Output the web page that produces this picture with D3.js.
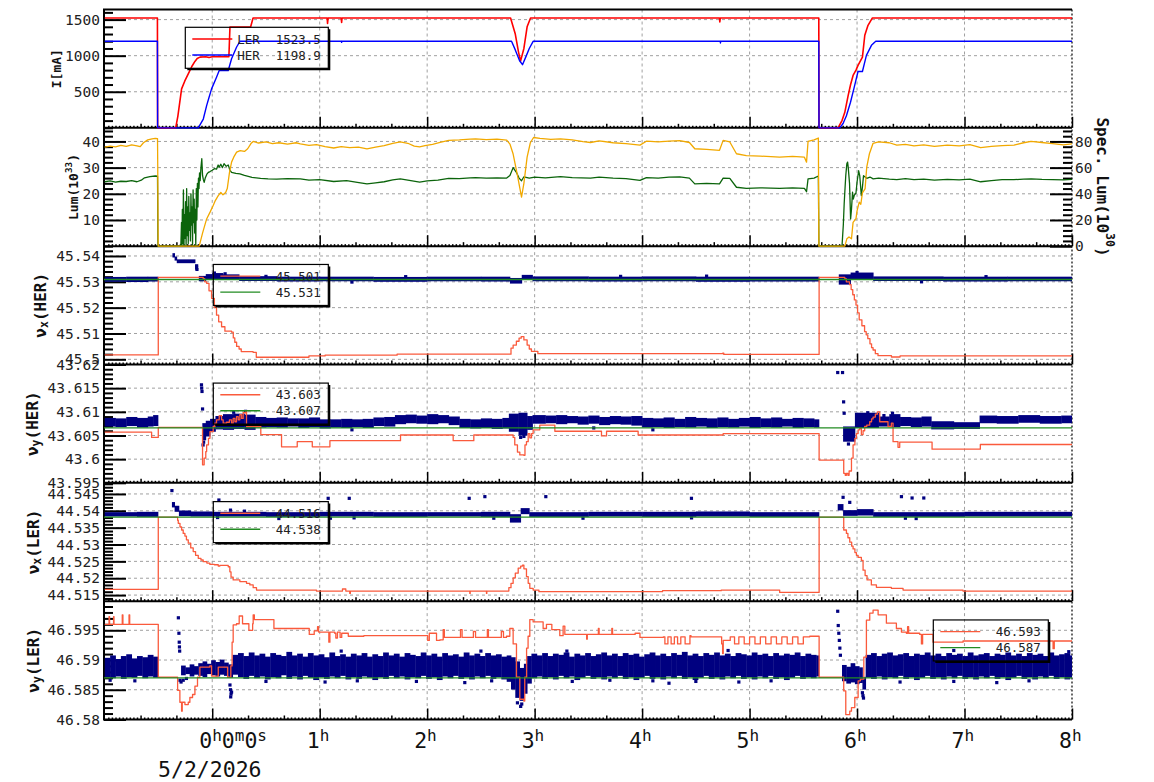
<!DOCTYPE html>
<html><head><meta charset="utf-8">
<script src="https://cdn.jsdelivr.net/npm/d3@7"></script>
<style>body{margin:0;background:#fff}svg{display:block}</style>
</head><body><svg id="c" width="1154" height="782"></svg>
<script>
// ---------------- DATA (time in hours from 0h0m0s, 5/2/2026) ----------------
const hourTicks = [0,1,2,3,4,5,6,7,8];
const hourLabels = [[["0","h"],["0","m"],["0","s"]],[["1","h"]],[["2","h"]],[["3","h"]],[["4","h"]],[["5","h"]],[["6","h"]],[["7","h"]],[["8","h"]]];
const dateLabel = "5/2/2026";

const iTicks = [500,1000,1500];
const lumTicks = [10,20,30,40];
const specTicks = [0,20,40,60,80];
const nxHerTicks = [45.5,45.51,45.52,45.53,45.54];
const nyHerTicks = [43.595,43.6,43.605,43.61,43.615,43.62];
const nxLerTicks = [44.515,44.52,44.525,44.53,44.535,44.54,44.545];
const nyLerTicks = [46.58,46.585,46.59,46.595];

// beam currents [h, mA]
const lerCurrent = [[-1.0,1523],[-0.51,1523],[-0.508,0],[-0.34,0],[-0.32,160],[-0.285,540],[-0.255,650],[-0.223,749],[-0.19,850],[-0.161,920],[-0.14,960],[-0.114,980],[-0.06,985],[-0.03,975],[0.0,985],[0.155,985],[0.165,1398],[0.357,1398],[0.38,1523],[1.07,1523],[1.073,1446],[1.078,1523],[1.2,1523],[1.204,1460],[1.208,1523],[2.776,1523],[2.82,1300],[2.85,1050],[2.869,925],[2.9,1100],[2.93,1400],[2.962,1523],[4.72,1523],[4.723,1468],[4.728,1523],[5.644,1523],[5.646,0],[5.823,0],[5.86,100],[5.886,215],[5.917,447],[5.94,600],[5.963,726],[5.99,800],[6.009,865],[6.05,980],[6.072,1283],[6.102,1421],[6.143,1523],[8.0,1523]];
const herCurrent = [[-1.0,1199],[-0.51,1199],[-0.508,0],[-0.13,0],[-0.083,122],[-0.052,308],[-0.03,420],[-0.006,540],[0.04,702],[0.065,795],[0.149,795],[0.18,958],[0.227,1120],[0.258,1199],[1.203,1199],[1.204,1185],[1.206,1199],[2.785,1199],[2.82,1080],[2.86,930],[2.887,875],[2.92,990],[2.95,1100],[2.986,1199],[4.727,1199],[4.729,1176],[4.731,1199],[5.644,1199],[5.646,0],[5.839,0],[5.87,60],[5.901,168],[5.939,354],[5.97,540],[6.009,781],[6.05,781],[6.087,1004],[6.134,1143],[6.174,1199],[8.0,1199]];

// luminosities (left axis units, 10^33)
const specLum = [[-1.0,37.8],[-0.95,38.2],[-0.9,37.9],[-0.85,38.5],[-0.8,38.1],[-0.75,38.7],[-0.7,38.3],[-0.67,38.0],[-0.64,39.5],[-0.6,40.6],[-0.56,41.0],[-0.53,41.2],[-0.509,41.1],[-0.507,30.5],[-0.503,0],[-0.121,0],[-0.09,5],[-0.052,10.4],[-0.02,13],[0.009,15.5],[0.03,17.5],[0.056,19.3],[0.08,20.5],[0.1,19.6],[0.125,20.5],[0.14,22],[0.16,28],[0.18,32.1],[0.2,34],[0.227,35.9],[0.26,36.5],[0.3,36.2],[0.33,37.2],[0.36,39.2],[0.381,40.0],[0.43,39.4],[0.5,39.8],[0.56,39.2],[0.62,39.5],[0.7,39.0],[0.78,39.5],[0.82,39.1],[0.9,38.5],[0.97,38.8],[1.05,38.0],[1.13,37.5],[1.2,38.0],[1.28,37.6],[1.36,37.8],[1.44,37.2],[1.52,37.8],[1.6,38.4],[1.68,39.3],[1.75,39.8],[1.82,39.3],[1.88,38.2],[1.93,37.9],[1.98,38.4],[2.05,38.9],[2.12,39.6],[2.2,40.4],[2.3,40.6],[2.4,40.9],[2.45,41.0],[2.55,40.7],[2.65,40.9],[2.74,40.5],[2.77,39.0],[2.8,35.2],[2.84,27],[2.878,18.7],[2.9,24],[2.93,34],[2.96,39.5],[2.99,41.5],[3.05,41.2],[3.15,40.8],[3.24,41.0],[3.35,40.6],[3.45,39.9],[3.52,39.6],[3.6,40.2],[3.73,39.5],[3.85,39.2],[3.98,38.6],[4.04,40.1],[4.15,39.8],[4.25,40.1],[4.35,40.3],[4.44,39.6],[4.49,37.2],[4.6,37.0],[4.72,36.6],[4.754,40.4],[4.816,39.8],[4.878,35.3],[4.97,34.6],[5.1,34.4],[5.28,34.0],[5.4,34.3],[5.51,34.0],[5.53,32.1],[5.544,40.0],[5.6,40.6],[5.64,41.3],[5.645,0],[5.886,0],[5.905,2.8],[5.925,3.5],[5.948,2.8],[5.963,9.1],[5.99,10.5],[6.0,13.5],[6.02,16.8],[6.035,16.0],[6.05,20.3],[6.075,22],[6.09,30.2],[6.115,35.3],[6.149,39.3],[6.2,39.8],[6.3,39.5],[6.37,38.6],[6.45,38.9],[6.53,38.3],[6.62,38.7],[6.72,38.1],[6.84,38.6],[6.95,38.3],[7.05,38.8],[7.15,37.6],[7.25,38.1],[7.35,38.4],[7.46,38.6],[7.55,39.5],[7.62,40.0],[7.72,39.6],[7.82,39.2],[7.92,38.7],[8.0,39.1]];
const lum = [[-1.0,24.6],[-0.95,24.9],[-0.9,24.5],[-0.85,24.8],[-0.8,24.7],[-0.75,25.0],[-0.7,24.6],[-0.66,25.2],[-0.63,26.1],[-0.58,26.6],[-0.53,26.8],[-0.509,26.7],[-0.505,0],[-0.292,0],[-0.286,9],[-0.282,0],[-0.278,14],[-0.273,1],[-0.268,21.5],[-0.263,0],[-0.258,12],[-0.253,3],[-0.248,17],[-0.243,0],[-0.238,22],[-0.233,4],[-0.228,15],[-0.223,1],[-0.218,19],[-0.213,6],[-0.208,12.7],[-0.203,2],[-0.198,20],[-0.193,8],[-0.188,15],[-0.183,0],[-0.178,21.5],[-0.173,9],[-0.168,18],[-0.163,5],[-0.158,14],[-0.153,0],[-0.148,22],[-0.143,10],[-0.138,24],[-0.133,15],[-0.128,26],[-0.123,22],[-0.118,28],[-0.112,25],[-0.105,30],[-0.097,33.4],[-0.09,27],[-0.083,25.5],[-0.075,24.4],[-0.065,26],[-0.05,27.5],[-0.036,28.2],[-0.02,28.5],[0.0,29.0],[0.02,29.6],[0.04,29.4],[0.055,31],[0.065,30.2],[0.08,31.3],[0.095,30],[0.11,31.5],[0.13,30.5],[0.149,31],[0.165,29],[0.18,28.2],[0.22,27.8],[0.258,27.6],[0.3,27.0],[0.37,26.3],[0.45,25.9],[0.52,25.7],[0.6,25.6],[0.7,25.8],[0.82,25.7],[0.9,25.2],[1.0,25.4],[1.13,24.7],[1.25,25.0],[1.35,24.4],[1.44,23.8],[1.52,24.2],[1.6,24.6],[1.68,25.3],[1.75,25.7],[1.82,25.2],[1.93,24.5],[2.0,24.9],[2.1,25.2],[2.2,25.9],[2.3,25.8],[2.4,26.1],[2.45,26.2],[2.55,26.0],[2.65,26.1],[2.74,26.0],[2.77,27],[2.8,30.0],[2.83,28.2],[2.855,26],[2.878,25.0],[2.9,26.5],[2.95,26.0],[3.0,26.4],[3.1,26.1],[3.24,26.6],[3.35,26.2],[3.52,26.0],[3.6,26.4],[3.73,26.0],[3.85,25.8],[3.98,25.1],[4.04,26.2],[4.15,26.0],[4.25,26.4],[4.35,26.5],[4.44,26.0],[4.49,23.8],[4.6,24.0],[4.72,23.8],[4.754,26.0],[4.816,25.9],[4.878,22.5],[4.97,22.1],[5.1,22.3],[5.28,22.1],[5.4,22.3],[5.51,22.1],[5.53,20.8],[5.544,25.7],[5.6,26.0],[5.64,26.8],[5.645,0],[5.86,0],[5.872,8],[5.88,16],[5.886,20.6],[5.895,27],[5.905,31.5],[5.912,32.1],[5.918,30],[5.93,24],[5.94,10.4],[5.948,14],[5.958,20.6],[5.965,18],[5.975,19.5],[5.99,20.3],[6.0,24.5],[6.015,28.8],[6.025,26.9],[6.04,19.3],[6.05,22.5],[6.06,26.9],[6.09,25.9],[6.12,26.4],[6.15,25.7],[6.2,26.0],[6.3,25.6],[6.37,25.4],[6.45,25.8],[6.53,25.4],[6.62,25.6],[6.72,25.2],[6.84,25.5],[6.95,25.3],[7.05,25.6],[7.15,24.6],[7.25,25.0],[7.35,25.4],[7.46,25.4],[7.55,25.6],[7.62,25.7],[7.72,25.5],[7.82,25.4],[7.92,25.3],[8.0,25.5]];

// nu_x(HER)
const nxHerSet = [[-1.0,45.5017],[-0.502,45.5317],[-0.084,45.5312],[-0.07,45.5300],[-0.052,45.5294],[-0.03,45.5265],[-0.006,45.5236],[0.02,45.5200],[0.04,45.5171],[0.06,45.5145],[0.087,45.5126],[0.118,45.5109],[0.18,45.5105],[0.196,45.5083],[0.21,45.5066],[0.227,45.5050],[0.25,45.5040],[0.27,45.5030],[0.38,45.5027],[0.41,45.5008],[0.9,45.5013],[1.05,45.5016],[1.72,45.5020],[2.75,45.5020],[2.78,45.5043],[2.8,45.5055],[2.83,45.5070],[2.855,45.5082],[2.875,45.5088],[2.9,45.5075],[2.93,45.5055],[2.95,45.5040],[2.97,45.5031],[3.03,45.5022],[4.75,45.5024],[4.76,45.5019],[5.647,45.5317],[5.886,45.5312],[5.9,45.5300],[5.93,45.5289],[5.945,45.5270],[5.96,45.5250],[5.975,45.5230],[5.99,45.5210],[6.005,45.5180],[6.02,45.5153],[6.045,45.5130],[6.07,45.5107],[6.085,45.5095],[6.1,45.5080],[6.12,45.5060],[6.135,45.5045],[6.149,45.5036],[6.17,45.5022],[6.195,45.5014],[6.32,45.5009],[6.4,45.5013],[8.0,45.5013]];
const nxHerRef = 45.5309;
const nxHerBand = [[-1.0,45.5304,45.5315],[-0.8,45.5303,45.5316],[-0.6,45.5305,45.5316],[-0.505,null,null],[-0.37,45.5398,45.5407],[-0.35,45.5386,45.5394],[-0.33,45.5376,45.5383],[-0.16,45.5351,45.5359],[-0.135,null,null],[-0.125,45.5306,45.5319],[-0.06,45.5311,45.5326],[0.0,45.5313,45.5330],[0.1,45.5312,45.5325],[0.25,45.5307,45.5318],[0.6,45.5305,45.5316],[1.0,45.5306,45.5316],[1.5,45.5304,45.5315],[2.0,45.5306,45.5316],[2.5,45.5305,45.5316],[2.77,45.5297,45.5311],[2.88,45.5311,45.5323],[2.98,45.5306,45.5317],[3.5,45.5305,45.5316],[4.0,45.5306,45.5317],[4.5,45.5304,45.5316],[5.0,45.5305,45.5316],[5.645,null,null],[5.83,45.5293,45.5325],[5.94,45.5313,45.5332],[6.15,45.5307,45.5317],[6.8,45.5305,45.5316],[7.4,45.5306,45.5316]];
const nxHerPts = [[0.02,45.5334],[0.12,45.5331],[0.5,45.5321],[1.3,45.5299],[1.8,45.5320],[3.8,45.5321],[4.6,45.5322],[6.0,45.5336],[-0.145,45.5362],[-0.142,45.5348],[6.6,45.5300],[7.2,45.5320]];

// nu_y(HER)
const nyHerSet = [[-1.0,43.6057],[-0.564,43.6046],[-0.502,43.6067],[-0.09,43.5988],[-0.075,43.6002],[-0.06,43.6016],[-0.052,43.6030],[-0.035,43.6044],[-0.021,43.6058],[0.009,43.6069],[0.025,43.6076],[0.04,43.6083],[0.065,43.6092],[0.087,43.6083],[0.102,43.6076],[0.133,43.6078],[0.16,43.6083],[0.18,43.6076],[0.195,43.6086],[0.211,43.6079],[0.226,43.6090],[0.242,43.6083],[0.257,43.6094],[0.273,43.6086],[0.288,43.6098],[0.31,43.6100],[0.319,43.6069],[0.452,43.6052],[0.645,43.6026],[0.791,43.6037],[0.931,43.6026],[1.095,43.6039],[1.752,43.6051],[2.242,43.6039],[2.434,43.6051],[2.80,43.6046],[2.815,43.6030],[2.84,43.6015],[2.862,43.6009],[2.899,43.6008],[2.91,43.6030],[2.924,43.6037],[2.94,43.6054],[2.955,43.6045],[2.971,43.6054],[2.986,43.6062],[3.048,43.6072],[3.188,43.6059],[3.622,43.6049],[3.669,43.6059],[3.963,43.6051],[4.754,43.6054],[5.647,43.5998],[5.876,43.5970],[5.89,43.5966],[5.901,43.5970],[5.915,43.5966],[5.926,43.5975],[5.948,43.6002],[5.963,43.6030],[5.98,43.6044],[5.994,43.6054],[6.01,43.6062],[6.025,43.6065],[6.04,43.6052],[6.056,43.6060],[6.071,43.6069],[6.09,43.6072],[6.118,43.6079],[6.135,43.6085],[6.149,43.6089],[6.17,43.6095],[6.189,43.6100],[6.211,43.6079],[6.288,43.6069],[6.319,43.6076],[6.335,43.6037],[6.381,43.6025],[6.397,43.6036],[6.698,43.6021],[7.147,43.6031],[8.0,43.6031]];
const nyHerRef = 43.6066;
const nyHerBand = [[-1.0,43.6071,43.6085],[-0.9,43.6070,43.6084],[-0.8,43.6072,43.6087],[-0.7,43.6069,43.6085],[-0.6,43.6071,43.6088],[-0.55,43.6072,43.6091],[-0.505,null,null],[-0.092,43.6042,43.6074],[-0.06,43.6050,43.6079],[-0.02,43.6060,43.6083],[0.03,43.6065,43.6089],[0.1,43.6064,43.6093],[0.2,43.6066,43.6094],[0.3,43.6064,43.6092],[0.4,43.6069,43.6087],[0.5,43.6070,43.6085],[0.6,43.6069,43.6086],[0.7,43.6071,43.6084],[0.8,43.6068,43.6084],[0.9,43.6070,43.6086],[1.0,43.6067,43.6082],[1.1,43.6069,43.6082],[1.2,43.6068,43.6083],[1.3,43.6070,43.6082],[1.4,43.6068,43.6083],[1.5,43.6072,43.6086],[1.6,43.6071,43.6087],[1.7,43.6076,43.6091],[1.8,43.6078,43.6092],[1.9,43.6077,43.6090],[2.0,43.6076,43.6093],[2.1,43.6078,43.6091],[2.2,43.6074,43.6088],[2.3,43.6068,43.6083],[2.4,43.6067,43.6082],[2.5,43.6068,43.6084],[2.6,43.6066,43.6083],[2.7,43.6067,43.6085],[2.76,43.6060,43.6094],[2.85,43.6052,43.6096],[2.93,43.6064,43.6089],[2.98,43.6077,43.6091],[3.1,43.6078,43.6090],[3.2,43.6076,43.6091],[3.3,43.6078,43.6089],[3.4,43.6075,43.6088],[3.5,43.6077,43.6090],[3.6,43.6074,43.6087],[3.7,43.6076,43.6089],[3.8,43.6075,43.6088],[3.9,43.6073,43.6089],[4.0,43.6069,43.6085],[4.1,43.6070,43.6084],[4.2,43.6068,43.6086],[4.3,43.6070,43.6083],[4.4,43.6069,43.6087],[4.5,43.6071,43.6085],[4.6,43.6068,43.6084],[4.7,43.6070,43.6086],[4.8,43.6069,43.6083],[4.9,43.6071,43.6085],[5.0,43.6068,43.6087],[5.1,43.6070,43.6084],[5.2,43.6069,43.6086],[5.3,43.6071,43.6083],[5.4,43.6068,43.6085],[5.5,43.6070,43.6084],[5.6,43.6069,43.6082],[5.645,null,null],[5.87,43.6039,43.6067],[5.98,43.6068,43.6096],[6.2,43.6071,43.6088],[6.3,43.6070,43.6093],[6.4,43.6072,43.6087],[6.5,43.6070,43.6086],[6.6,43.6071,43.6088],[6.69,43.6065,43.6078],[6.9,43.6066,43.6076],[7.14,43.6078,43.6090],[7.3,43.6077,43.6089],[7.5,43.6079,43.6091],[7.7,43.6077,43.6089],[7.9,43.6078,43.6090]];
const nyHerPts = [[-0.1,43.6157],[-0.098,43.6150],[-0.095,43.6143],[-0.09,43.6106],[-0.085,43.6030],[-0.08,43.6036],[0.31,43.6101],[0.2,43.6099],[5.82,43.6183],[5.865,43.6183],[5.875,43.6121],[5.88,43.6097],[5.9,43.6043],[5.92,43.6032],[6.33,43.6097],[2.87,43.6046],[2.9,43.6048],[1.3,43.6062],[3.55,43.6066],[4.1,43.6062],[6.1,43.6098],[6.25,43.6092]];

// nu_x(LER)
const nxLerSet = [[-1.0,44.5167],[-0.502,44.5381],[-0.322,44.5372],[-0.316,44.5363],[-0.30,44.5352],[-0.285,44.5343],[-0.27,44.5333],[-0.254,44.5325],[-0.24,44.5314],[-0.223,44.5304],[-0.20,44.5290],[-0.177,44.5279],[-0.155,44.5268],[-0.130,44.5259],[-0.105,44.5254],[-0.084,44.5249],[-0.05,44.5245],[-0.022,44.5241],[0.02,44.5240],[0.056,44.5236],[0.071,44.5238],[0.149,44.5234],[0.164,44.5219],[0.175,44.5203],[0.195,44.5195],[0.257,44.5190],[0.319,44.5185],[0.35,44.5180],[0.381,44.5172],[0.412,44.5165],[0.97,44.5162],[1.212,44.5168],[1.243,44.5162],[1.28,44.5155],[1.285,44.5162],[2.397,44.5155],[2.40,44.5162],[2.552,44.5155],[2.555,44.5162],[2.738,44.5162],[2.76,44.5172],[2.78,44.5185],[2.8,44.5201],[2.82,44.5215],[2.847,44.5230],[2.87,44.5236],[2.887,44.5239],[2.9,44.5228],[2.924,44.5205],[2.94,44.5185],[2.955,44.5170],[2.986,44.5165],[3.04,44.5160],[4.19,44.5163],[4.736,44.5165],[5.28,44.5158],[5.647,44.5381],[5.876,44.5343],[5.901,44.5333],[5.915,44.5320],[5.932,44.5307],[5.95,44.5295],[5.963,44.5287],[5.98,44.5276],[5.994,44.5268],[6.01,44.5262],[6.04,44.5253],[6.056,44.5224],[6.075,44.5208],[6.093,44.5195],[6.133,44.5180],[6.18,44.5173],[6.319,44.5170],[6.428,44.5165],[6.986,44.5162],[8.0,44.5162]];
const nxLerRef = 44.5381;
const nxLerBand = [[-1.0,44.5386,44.5393],[-0.7,44.5385,44.5394],[-0.505,null,null],[-0.375,44.5413,44.5423],[-0.35,44.5400,44.5412],[-0.31,44.5387,44.5398],[-0.2,44.5386,44.5395],[0.0,44.5386,44.5394],[0.5,44.5385,44.5393],[1.0,44.5386,44.5394],[1.5,44.5385,44.5393],[2.0,44.5386,44.5393],[2.5,44.5385,44.5394],[2.77,44.5368,44.5387],[2.87,44.5393,44.5405],[2.95,44.5385,44.5393],[3.5,44.5386,44.5394],[4.0,44.5385,44.5394],[4.5,44.5386,44.5395],[5.0,44.5385,44.5393],[5.645,null,null],[5.82,44.5404,44.5417],[5.87,44.5388,44.5399],[6.0,44.5389,44.5402],[6.15,44.5385,44.5393],[7.0,44.5386,44.5394]];
const nxLerPts = [[-0.375,44.5460],[0.062,44.5432],[1.079,44.5437],[1.275,44.5437],[2.391,44.5437],[2.537,44.5442],[3.104,44.5442],[4.459,44.5437],[5.87,44.5440],[5.932,44.5425],[6.413,44.5442],[6.512,44.5438],[6.621,44.5438],[0.05,44.5380],[0.62,44.5377],[1.1,44.5378],[1.32,44.5379],[2.62,44.5378],[3.45,44.5378],[4.46,44.5379],[6.45,44.5378],[6.55,44.5377],[0.17,44.5402],[0.3,44.5399]];

// nu_y(LER)
const nyLerSet = [[-1.0,46.5960],[-0.96,46.5973],[-0.955,46.5960],[-0.918,46.5973],[-0.914,46.5960],[-0.837,46.5976],[-0.831,46.5960],[-0.774,46.5976],[-0.768,46.5960],[-0.502,46.5871],[-0.322,46.5849],[-0.301,46.5829],[-0.285,46.5814],[-0.279,46.5829],[-0.254,46.5825],[-0.223,46.5829],[-0.208,46.5837],[-0.183,46.5842],[-0.161,46.5856],[-0.137,46.5871],[-0.115,46.5888],[-0.022,46.5890],[-0.006,46.5873],[0.056,46.5888],[0.143,46.5871],[0.173,46.5890],[0.185,46.5930],[0.195,46.5959],[0.226,46.5961],[0.251,46.5974],[0.282,46.5961],[0.341,46.5950],[0.376,46.5961],[0.381,46.5976],[0.392,46.5968],[0.574,46.5953],[0.903,46.5943],[0.949,46.5949],[0.98,46.5956],[0.99,46.5947],[1.07,46.5947],[1.085,46.5930],[1.095,46.5947],[1.14,46.5945],[1.15,46.5937],[1.165,46.5947],[1.19,46.5938],[1.205,46.5945],[1.266,46.5940],[1.411,46.5941],[1.994,46.5941],[2.005,46.5933],[2.02,46.5945],[2.05,46.5945],[2.087,46.5933],[2.118,46.5934],[2.149,46.5951],[2.16,46.5938],[2.3,46.5938],[2.31,46.5951],[2.325,46.5938],[2.42,46.5938],[2.43,46.5948],[2.45,46.5938],[2.55,46.5938],[2.56,46.5951],[2.57,46.5938],[2.68,46.5938],[2.69,46.5948],[2.71,46.5938],[2.738,46.5940],[2.769,46.5953],[2.8,46.5927],[2.831,46.5871],[2.862,46.5834],[2.899,46.5831],[2.908,46.5871],[2.925,46.5920],[2.939,46.5940],[2.955,46.5968],[2.986,46.5964],[3.079,46.5953],[3.11,46.5960],[3.141,46.5960],[3.16,46.5951],[3.234,46.5941],[3.265,46.5957],[3.281,46.5943],[3.484,46.5935],[3.49,46.5943],[3.593,46.5953],[3.6,46.5943],[3.718,46.5953],[3.725,46.5943],[3.935,46.5945],[3.98,46.5938],[4.197,46.5939],[4.212,46.5927],[4.24,46.5939],[4.27,46.5927],[4.3,46.5939],[4.33,46.5927],[4.36,46.5939],[4.40,46.5927],[4.445,46.5941],[4.455,46.5939],[4.74,46.5927],[4.749,46.5911],[4.755,46.5933],[4.82,46.5939],[4.86,46.5927],[4.9,46.5939],[4.95,46.5927],[5.0,46.5939],[5.05,46.5927],[5.1,46.5939],[5.15,46.5927],[5.2,46.5939],[5.25,46.5927],[5.3,46.5939],[5.35,46.5927],[5.4,46.5939],[5.45,46.5927],[5.5,46.5939],[5.56,46.5940],[5.647,46.5871],[5.876,46.5848],[5.895,46.5808],[5.932,46.5814],[5.948,46.5820],[5.979,46.5837],[6.01,46.5865],[6.032,46.5868],[6.063,46.5905],[6.087,46.5967],[6.118,46.5979],[6.149,46.5984],[6.196,46.5976],[6.273,46.5962],[6.366,46.5953],[6.413,46.5947],[6.459,46.5945],[6.47,46.5956],[6.48,46.5945],[6.583,46.5943],[6.599,46.5927],[6.61,46.5943],[6.707,46.5930],[6.986,46.5932],[7.762,46.5932],[7.824,46.5919],[7.835,46.5932],[8.0,46.5932]];
const nyLerRef = 46.5870;
const nyLerBand = [[-1.00,46.5873,46.5902],[-0.95,46.5871,46.5906],[-0.90,46.5874,46.5900],[-0.85,46.5870,46.5905],[-0.80,46.5873,46.5908],[-0.75,46.5872,46.5901],[-0.70,46.5875,46.5905],[-0.65,46.5871,46.5903],[-0.60,46.5874,46.5907],[-0.55,46.5872,46.5904],[-0.505,null,null],
[-0.29,46.5876,46.5889],[-0.25,46.5878,46.5886],[-0.21,46.5874,46.5891],[-0.17,46.5877,46.5888],[-0.13,46.5875,46.5893],[-0.09,46.5873,46.5896],[-0.05,46.5878,46.5892],[-0.01,46.5876,46.5898],[0.03,46.5874,46.5895],[0.07,46.5877,46.5899],[0.11,46.5875,46.5894],[0.15,46.5872,46.5891],
[0.19,46.5877,46.5907],[0.24,46.5873,46.5910],[0.29,46.5870,46.5905],[0.34,46.5875,46.5911],[0.39,46.5871,46.5906],[0.44,46.5874,46.5909],[0.49,46.5869,46.5904],[0.54,46.5873,46.5910],[0.59,46.5871,46.5907],[0.64,46.5876,46.5905],[0.69,46.5870,46.5912],[0.74,46.5874,46.5906],[0.79,46.5869,46.5909],[0.84,46.5875,46.5904],[0.89,46.5872,46.5910],[0.94,46.5868,46.5906],[0.99,46.5873,46.5908],[1.04,46.5870,46.5903],[1.09,46.5874,46.5911],[1.14,46.5871,46.5905],[1.19,46.5875,46.5908],[1.24,46.5869,46.5904],[1.29,46.5873,46.5909],[1.34,46.5870,46.5906],[1.39,46.5874,46.5910],[1.44,46.5872,46.5904],[1.49,46.5868,46.5908],[1.54,46.5873,46.5905],[1.59,46.5870,46.5911],[1.64,46.5875,46.5906],[1.69,46.5871,46.5909],[1.74,46.5874,46.5904],[1.79,46.5869,46.5910],[1.84,46.5873,46.5907],[1.89,46.5871,46.5905],[1.94,46.5875,46.5911],[1.99,46.5870,46.5906],[2.04,46.5873,46.5909],[2.09,46.5868,46.5904],[2.14,46.5874,46.5910],[2.19,46.5871,46.5906],[2.24,46.5875,46.5908],[2.29,46.5870,46.5904],[2.34,46.5873,46.5911],[2.39,46.5869,46.5906],[2.44,46.5874,46.5909],[2.49,46.5871,46.5905],[2.54,46.5875,46.5910],[2.59,46.5870,46.5906],[2.64,46.5873,46.5908],[2.69,46.5869,46.5904],[2.74,46.5865,46.5906],[2.78,46.5852,46.5903],[2.82,46.5838,46.5896],[2.86,46.5833,46.5885],[2.90,46.5845,46.5892],[2.93,46.5862,46.5905],[2.97,46.5871,46.5909],
[3.02,46.5874,46.5906],[3.07,46.5870,46.5910],[3.12,46.5873,46.5905],[3.17,46.5869,46.5909],[3.22,46.5875,46.5907],[3.27,46.5871,46.5911],[3.32,46.5874,46.5904],[3.37,46.5868,46.5909],[3.42,46.5872,46.5906],[3.47,46.5875,46.5910],[3.52,46.5870,46.5905],[3.57,46.5873,46.5908],[3.62,46.5869,46.5911],[3.67,46.5874,46.5906],[3.72,46.5871,46.5909],[3.77,46.5875,46.5905],[3.82,46.5870,46.5910],[3.87,46.5873,46.5907],[3.92,46.5868,46.5909],[3.97,46.5872,46.5904],[4.02,46.5875,46.5908],[4.07,46.5870,46.5911],[4.12,46.5873,46.5906],[4.17,46.5869,46.5909],[4.22,46.5874,46.5905],[4.27,46.5871,46.5910],[4.32,46.5875,46.5907],[4.37,46.5870,46.5912],[4.42,46.5873,46.5906],[4.47,46.5868,46.5909],[4.52,46.5872,46.5905],[4.57,46.5875,46.5910],[4.62,46.5870,46.5907],[4.67,46.5873,46.5911],[4.72,46.5869,46.5906],[4.77,46.5874,46.5909],[4.82,46.5871,46.5905],[4.87,46.5875,46.5910],[4.92,46.5870,46.5908],[4.97,46.5873,46.5906],[5.02,46.5869,46.5911],[5.07,46.5874,46.5907],[5.12,46.5871,46.5909],[5.17,46.5875,46.5905],[5.22,46.5870,46.5910],[5.27,46.5873,46.5906],[5.32,46.5868,46.5909],[5.37,46.5872,46.5907],[5.42,46.5875,46.5911],[5.47,46.5870,46.5905],[5.52,46.5873,46.5909],[5.57,46.5871,46.5907],[5.62,46.5874,46.5906],[5.645,null,null],
[5.86,46.5866,46.5890],[5.90,46.5862,46.5887],[5.94,46.5864,46.5893],[5.98,46.5861,46.5888],[6.02,46.5863,46.5886],[6.05,46.5852,46.5870],[6.08,46.5872,46.5907],[6.13,46.5870,46.5910],[6.18,46.5874,46.5905],[6.23,46.5869,46.5909],[6.28,46.5873,46.5911],[6.33,46.5871,46.5906],[6.38,46.5875,46.5908],[6.43,46.5870,46.5910],[6.48,46.5873,46.5905],[6.53,46.5868,46.5909],[6.58,46.5872,46.5907],[6.63,46.5875,46.5911],[6.68,46.5870,46.5906],[6.73,46.5873,46.5909],[6.78,46.5869,46.5905],[6.83,46.5874,46.5910],[6.88,46.5871,46.5907],[6.93,46.5875,46.5909],[6.98,46.5870,46.5905],[7.03,46.5873,46.5911],[7.08,46.5869,46.5906],[7.13,46.5874,46.5908],[7.18,46.5871,46.5910],[7.23,46.5875,46.5905],[7.28,46.5870,46.5909],[7.33,46.5873,46.5907],[7.38,46.5868,46.5911],[7.43,46.5872,46.5906],[7.48,46.5875,46.5909],[7.53,46.5870,46.5905],[7.58,46.5873,46.5910],[7.63,46.5869,46.5907],[7.68,46.5874,46.5909],[7.73,46.5871,46.5905],[7.78,46.5875,46.5911],[7.83,46.5870,46.5906],[7.88,46.5873,46.5908],[7.93,46.5869,46.5910],[7.98,46.5872,46.5906]];
const nyLerPts = [[-0.315,46.5971],[-0.31,46.5945],[-0.307,46.5930],[-0.305,46.5922],[-0.303,46.5915],[-0.3,46.5866],[-0.29,46.5863],[-0.27,46.5866],[-0.24,46.5869],[0.165,46.5858],[0.17,46.5850],[0.175,46.5843],[0.172,46.5838],[0.18,46.5846],[-0.72,46.5865],[-0.95,46.5866],[0.5,46.5864],[1.05,46.5863],[1.35,46.5865],[1.9,46.5864],[2.35,46.5862],[2.6,46.5865],[2.84,46.5828],[2.87,46.5822],[2.88,46.5826],[3.35,46.5864],[3.7,46.5866],[4.1,46.5865],[4.25,46.5861],[4.5,46.5864],[4.9,46.5863],[5.2,46.5865],[5.82,46.5982],[5.825,46.5958],[5.83,46.5945],[5.835,46.5933],[5.84,46.5920],[5.845,46.5908],[6.05,46.5845],[6.055,46.5840],[6.06,46.5836],[6.4,46.5863],[6.9,46.5864],[7.3,46.5862],[7.6,46.5865],[2.5,46.5915],[4.8,46.5916],[6.9,46.5916],[7.97,46.5914],[1.2,46.5915],[3.3,46.5915]];

// legend values
const legCurrent = [["LER","1523.5"],["HER","1198.9"]];
const legNxHer = ["45.501","45.531"];
const legNyHer = ["43.603","43.607"];
const legNxLer = ["44.516","44.538"];
const legNyLer = ["46.593","46.587"];

// ---------------- DRAWING ----------------
const svg = d3.select("#c");
const L = 104, R = 1072, TOP = 9.5, PH = 118.33;
const x = d3.scaleLinear().domain([-1.007, 8]).range([L, R]);
const MONO = "'DejaVu Sans Mono', monospace";
const NAVY = "#000080", TUNE = "#fa5a3c", REFG = "#228b22";

const panels = [
  {domain:[0,1640], major:iTicks, minor:100, title:[["I[mA]",0]], tx:56, ts:13},
  {domain:[0,45.2], major:lumTicks, minor:2, title:[["Lum(10",0],["33",1],[")",0]], tx:73, ts:13,
   right:{domain:[0,90.4], major:specTicks, minor:4}},
  {domain:[45.498,45.5438], major:nxHerTicks, minor:0.002, title:[["ν",0],["x",-1],["(HER)",0]], tx:40, ts:16},
  {domain:[43.595,43.62], major:nyHerTicks, minor:0.001, title:[["ν",0],["y",-1],["(HER)",0]], tx:32, ts:16},
  {domain:[44.5132,44.5483], major:nxLerTicks, minor:0.001, title:[["ν",0],["x",-1],["(LER)",0]], tx:33, ts:16},
  {domain:[46.58,46.5999], major:nyLerTicks, minor:0.001, title:[["ν",0],["y",-1],["(LER)",0]], tx:33, ts:16}
];

function minorVals(dom, step, major){
  const out = [];
  const s = Math.ceil(dom[0]/step - 1e-6);
  for (let k = s; k*step <= dom[1] + 1e-9; k++){
    const v = +(k*step).toFixed(6);
    if (!major.some(m => Math.abs(m - v) < step/10)) out.push(v);
  }
  return out;
}
function addText(g, parts, size){
  parts.forEach(([t, s], i) => {
    const prev = i > 0 ? parts[i-1][1] : 0;
    const sp = g.append("tspan").text(t);
    const off = (v) => v === 1 ? -size*0.42 : v === -1 ? size*0.28 : 0;
    sp.attr("dy", off(s) - off(prev));
    if (s !== 0) sp.attr("font-size", size*0.72);
  });
}

const defs = svg.append("defs");
const minorX = [], microX = [];
for (let k = -3; k <= 24; k++){ if (k % 3 !== 0) minorX.push(k/3); }
for (let k = -30; k <= 240; k++){ if (k % 10 !== 0) microX.push(k/30); }

panels.forEach((p, i) => {
  const top = TOP + i*PH, bot = top + PH;
  p.top = top; p.bot = bot;
  p.y = d3.scaleLinear().domain(p.domain).range([bot, top]);
  const g = svg.append("g");
  g.selectAll(null).data(p.major.filter(v => p.y(v) > top + 1 && p.y(v) < bot - 1)).join("line")
    .attr("x1", L).attr("x2", R).attr("y1", d => p.y(d)).attr("y2", d => p.y(d))
    .attr("stroke", "#a0a0a0").attr("stroke-dasharray", "3,3");
  g.selectAll(null).data(hourTicks.filter(h => h < 8)).join("line")
    .attr("x1", d => x(d)).attr("x2", d => x(d)).attr("y1", top).attr("y2", bot)
    .attr("stroke", "#a0a0a0").attr("stroke-dasharray", "3,3");
  const ax = g.append("g").attr("transform", `translate(${L},0)`);
  ax.call(d3.axisLeft(p.y).tickValues(minorVals(p.domain, p.minor, p.major)).tickSize(-9).tickFormat(""));
  ax.append("g").call(d3.axisLeft(p.y).tickValues(p.major).tickSize(-22).tickPadding(4).tickFormat(d => String(d)));
  ax.selectAll(".domain").remove();
  ax.selectAll("line").attr("stroke", "#000").attr("stroke-width", 2);
  ax.selectAll("text").attr("font-family", MONO).attr("font-size", 14.5).attr("fill", "#222");
  if (p.right){
    const yr = d3.scaleLinear().domain(p.right.domain).range([bot, top]);
    const ar = g.append("g").attr("transform", `translate(${R},0)`);
    ar.call(d3.axisRight(yr).tickValues(minorVals(p.right.domain, p.right.minor, p.right.major)).tickSize(-9).tickFormat(""));
    ar.append("g").call(d3.axisRight(yr).tickValues(p.right.major).tickSize(-22).tickPadding(3).tickFormat(d => String(d)));
    ar.selectAll(".domain").remove();
    ar.selectAll("line").attr("stroke", "#000").attr("stroke-width", 2);
    ar.selectAll("text").attr("font-family", MONO).attr("font-size", 14.5).attr("fill", "#222");
  }
  const bx = g.append("g").attr("transform", `translate(0,${bot})`);
  bx.call(d3.axisBottom(x).tickValues(microX).tickSize(-2).tickFormat(""));
  bx.append("g").call(d3.axisBottom(x).tickValues(minorX).tickSize(-4).tickFormat(""));
  bx.append("g").call(d3.axisBottom(x).tickValues(hourTicks).tickSize(-11).tickFormat(""));
  bx.selectAll(".domain").remove();
  bx.selectAll("line").attr("stroke", "#000").attr("stroke-width", 1.5);
  const tt = g.append("text").attr("transform", `translate(${p.tx},${(top+bot)/2}) rotate(-90)`)
    .attr("text-anchor", "middle").attr("dominant-baseline", "central")
    .attr("font-family", MONO).attr("font-weight", "bold").attr("font-size", p.ts).attr("fill", "#111");
  addText(tt, p.title, p.ts);
  defs.append("clipPath").attr("id", "clip" + i).append("rect")
    .attr("x", L).attr("y", top - 1.5).attr("width", R - L).attr("height", PH + 3);
});

const frame = svg.append("g");
frame.selectAll(null).data(d3.range(7)).join("line")
  .attr("x1", L - 1).attr("x2", R).attr("y1", d => TOP + d*PH).attr("y2", d => TOP + d*PH)
  .attr("stroke", "#000").attr("stroke-width", 2);
frame.append("line").attr("x1", L).attr("x2", L).attr("y1", TOP).attr("y2", TOP + 6*PH)
  .attr("stroke", "#000").attr("stroke-width", 2);
frame.append("line").attr("x1", R).attr("x2", R).attr("y1", TOP).attr("y2", TOP + 6*PH)
  .attr("stroke", "#000").attr("stroke-width", 1.2).attr("stroke-dasharray", "2,2");

const rt = svg.append("text").attr("transform", `translate(1103,${(panels[1].top+panels[1].bot)/2}) rotate(90)`)
  .attr("text-anchor", "middle").attr("dominant-baseline", "central")
  .attr("font-family", MONO).attr("font-weight", "bold").attr("font-size", 16).attr("fill", "#111");
addText(rt, [["Spec. Lum(10",0],["30",1],[")",0]], 16);

function lineOf(p, data, color, w, curve){
  const ln = d3.line().x(d => x(d[0])).y(d => p.y(d[1])).curve(curve || d3.curveLinear);
  p.g.append("path").datum(data).attr("d", ln).attr("fill", "none")
    .attr("stroke", color).attr("stroke-width", w).attr("stroke-linejoin", "round");
}
function bandOf(p, band){
  const segs = [];
  band.forEach((b, i) => {
    if (b[1] == null) return;
    const t1 = i + 1 < band.length ? band[i+1][0] : 8;
    segs.push([b[0], t1, b[1], b[2]]);
  });
  p.g.selectAll(null).data(segs).join("rect")
    .attr("x", d => x(d[0])).attr("width", d => x(d[1]) - x(d[0]) + 0.4)
    .attr("y", d => p.y(d[3]) - 1).attr("height", d => p.y(d[2]) - p.y(d[3]) + 2)
    .attr("fill", NAVY);
}
function ptsOf(p, pts){
  p.g.selectAll(null).data(pts).join("rect")
    .attr("x", d => x(d[0]) - 1.6).attr("y", d => p.y(d[1]) - 1.6)
    .attr("width", 3.2).attr("height", 3.2).attr("fill", NAVY);
}
function refOf(p, v){ lineOf(p, [[-1.007, v], [8, v]], REFG, 1.3); }
panels.forEach((p, i) => { p.g = svg.append("g").attr("clip-path", `url(#clip${i})`); });

lineOf(panels[0], lerCurrent, "#ff0000", 1.6);
lineOf(panels[0], herCurrent, "#0000ff", 1.4);
lineOf(panels[1], lum, "#0b640b", 1.3);
lineOf(panels[1], specLum, "#f2a900", 1.3);
const tunes = [[nxHerBand, nxHerPts, nxHerSet, nxHerRef],[nyHerBand, nyHerPts, nyHerSet, nyHerRef],[nxLerBand, nxLerPts, nxLerSet, nxLerRef],[nyLerBand, nyLerPts, nyLerSet, nyLerRef]];
tunes.forEach((t, k) => {
  const p = panels[k + 2];
  bandOf(p, t[0]);
  ptsOf(p, t[1]);
  lineOf(p, t[2], TUNE, 1.3, d3.curveStepAfter);
  refOf(p, t[3]);
});

function legend(x0, y0, w, rows){
  const g = svg.append("g");
  const h = 41;
  g.append("rect").attr("x", x0).attr("y", y0).attr("width", w).attr("height", h)
    .attr("fill", "none").attr("stroke", "#000").attr("stroke-width", 1.2);
  g.append("path").attr("d", `M${x0+2},${y0+h+1}H${x0+w+1}V${y0+2}`)
    .attr("fill", "none").attr("stroke", "#000").attr("stroke-width", 2);
  rows.forEach((r, j) => {
    const yy = y0 + 11.7 + j*16;
    g.append("line").attr("x1", x0 + 7).attr("x2", x0 + 47).attr("y1", yy).attr("y2", yy)
      .attr("stroke", r.color).attr("stroke-width", 1.4);
    if (r.name) g.append("text").attr("x", x0 + 52).attr("y", yy + 4.5).text(r.name)
      .attr("font-family", MONO).attr("font-size", 12.5).attr("fill", "#222");
    g.append("text").attr("x", x0 + w - 7.5).attr("y", yy + 4.5).attr("text-anchor", "end").text(r.value)
      .attr("font-family", MONO).attr("font-size", 12.5).attr("fill", "#222");
  });
}
legend(185.3, panels[0].top + 17.8, 143, [{color:"#ff0000", name:legCurrent[0][0], value:legCurrent[0][1]},{color:"#0000ff", name:legCurrent[1][0], value:legCurrent[1][1]}]);
legend(213.3, panels[2].top + 18.3, 115, [{color:TUNE, value:legNxHer[0]},{color:REFG, value:legNxHer[1]}]);
legend(213.3, panels[3].top + 18.6, 115, [{color:TUNE, value:legNyHer[0]},{color:REFG, value:legNyHer[1]}]);
legend(213.3, panels[4].top + 18.8, 115, [{color:TUNE, value:legNxLer[0]},{color:REFG, value:legNxLer[1]}]);
legend(933.3, panels[5].top + 18.8, 115, [{color:TUNE, value:legNyLer[0]},{color:REFG, value:legNyLer[1]}]);

const xl = svg.append("g").attr("font-family", MONO).attr("fill", "#111");
hourTicks.forEach((h, i) => {
  const t = xl.append("text").attr("x", x(h) - 13).attr("y", 748).attr("font-size", 21.5);
  hourLabels[i].forEach(([b, s], j) => {
    t.append("tspan").attr("dy", j > 0 ? 7 : 0).attr("font-size", 21.5).text(b);
    t.append("tspan").attr("dy", -7).attr("font-size", 16).text(s);
  });
});
xl.append("text").attr("x", 158).attr("y", 777).attr("font-size", 21.5).text(dateLabel);
</script></body></html>
